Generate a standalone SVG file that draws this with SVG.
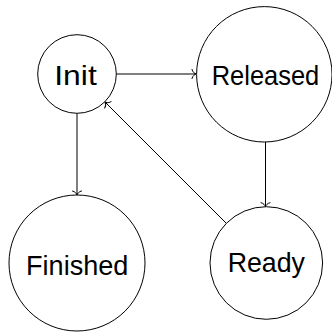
<svg xmlns="http://www.w3.org/2000/svg" width="332" height="334" viewBox="0 0 332 334">
<style>
.node circle{fill:#fff;stroke:#000;stroke-width:1}
.node text{font-family:"Liberation Sans",Arial,sans-serif;font-size:28px;fill:#000;text-anchor:middle}
.edge{stroke:#000;stroke-width:1;fill:none;marker-end:url(#arr)}
</style>
<defs>
<marker id="arr" markerUnits="userSpaceOnUse" viewBox="-6 -6 8 12" markerWidth="8" markerHeight="12" refX="0" refY="0" orient="auto" overflow="visible">
<path d="M-4,-4.5 C-3.5,-1.8 -1.2,-0.4 0,0 C-1.2,0.4 -3.5,1.8 -4,4.5" fill="none" stroke="#000" stroke-width="1" stroke-linecap="round"/>
</marker>
</defs>
<g id="connectors">
<line class="edge" x1="116.3" y1="74" x2="196" y2="74"/>
<line class="edge" x1="77" y1="113.3" x2="77" y2="195"/>
<line class="edge" x1="265.5" y1="142" x2="265.5" y2="206.7"/>
<line class="edge" x1="226.2" y1="223.2" x2="105" y2="102"/>
</g>
<g id="init" class="node">
<circle cx="77" cy="74" r="39.3"/>
<text x="75.5" y="85" textLength="42.5" lengthAdjust="spacingAndGlyphs">Init</text>
</g>
<g id="released" class="node">
<circle cx="264.3" cy="74.3" r="67.7"/>
<text x="265.5" y="85" textLength="107.6" lengthAdjust="spacingAndGlyphs">Released</text>
</g>
<g id="finished" class="node">
<circle cx="77" cy="263" r="68"/>
<text x="77.2" y="275" textLength="102.3" lengthAdjust="spacingAndGlyphs">Finished</text>
</g>
<g id="ready" class="node">
<circle cx="266.3" cy="263" r="56.3"/>
<text x="266.3" y="271.5" textLength="77.3" lengthAdjust="spacingAndGlyphs">Ready</text>
</g>
</svg>
